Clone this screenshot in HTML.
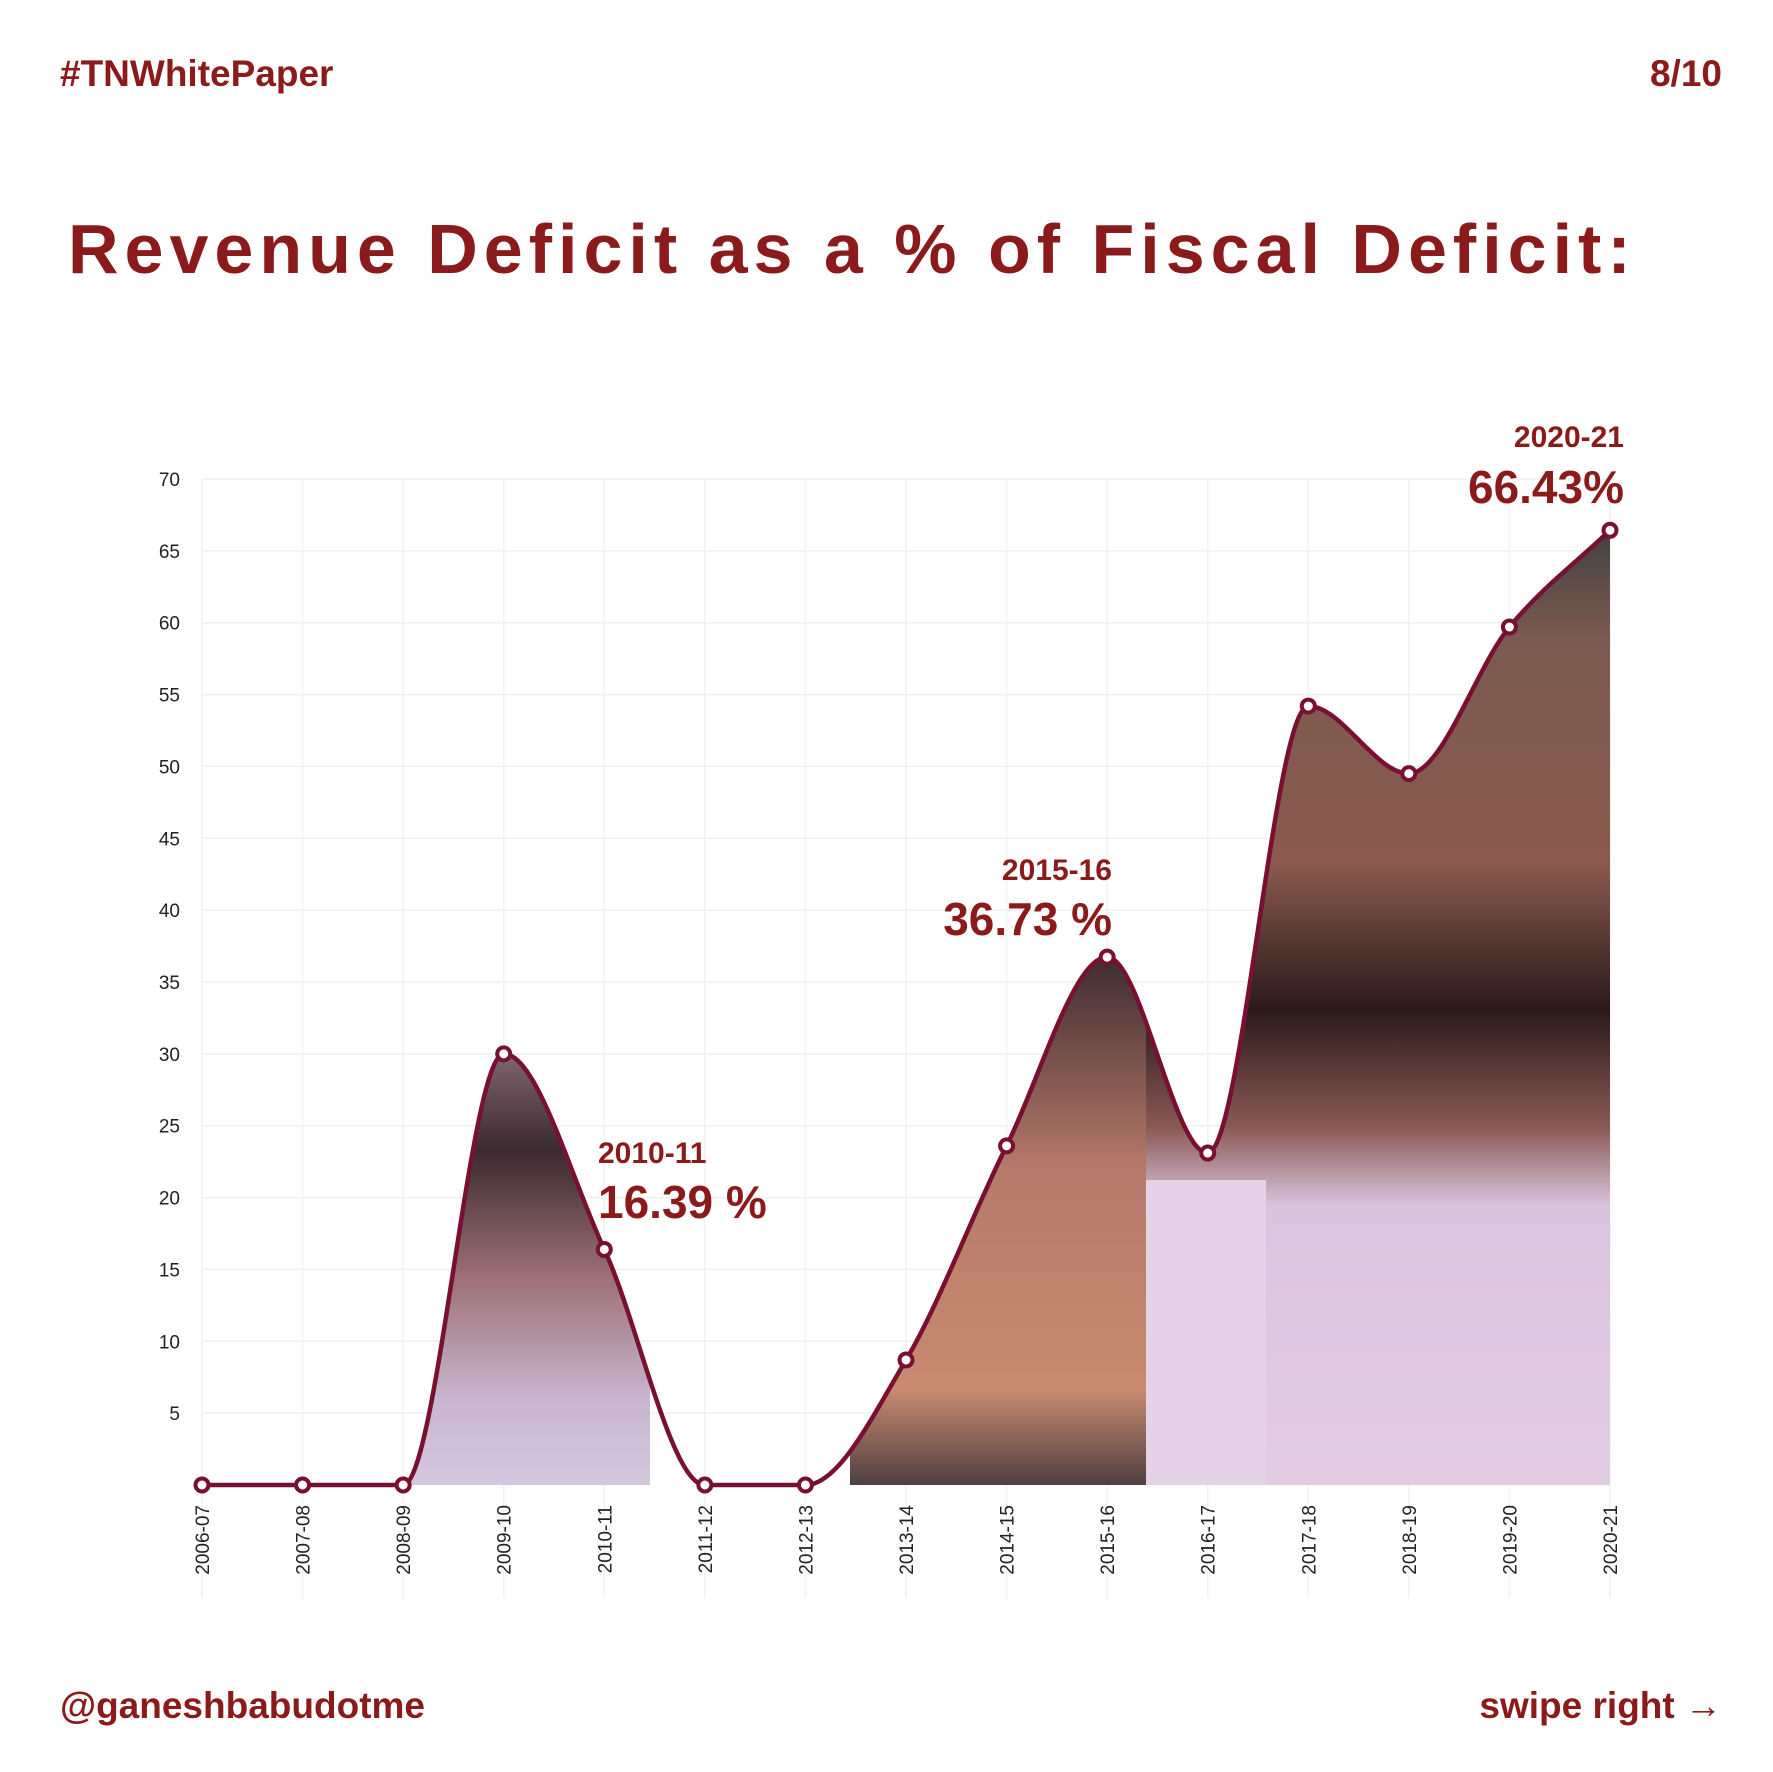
<!DOCTYPE html>
<html><head><meta charset="utf-8">
<style>
body{margin:0;background:#fff;}
svg{display:block;}
.t{font-family:"Liberation Sans Narrow","Liberation Sans",sans-serif;fill:#8b1a1a;font-weight:bold;}
.ax{font-family:"Liberation Sans Narrow","Liberation Sans",sans-serif;fill:#222;font-size:19px;}
</style></head>
<body>
<svg id="chart" width="1773" height="1772" viewBox="0 0 1773 1772" xmlns="http://www.w3.org/2000/svg">
<defs>
<linearGradient id="g1" x1="0" y1="0" x2="0" y2="1"><stop offset="0" stop-color="#a88690"/><stop offset="0.3" stop-color="#3a2a30"/><stop offset="0.55" stop-color="#9b6f74"/><stop offset="0.8" stop-color="#c9b6d0"/><stop offset="1" stop-color="#d8cbe0"/></linearGradient>
<linearGradient id="g2" x1="0" y1="0" x2="0" y2="1"><stop offset="0" stop-color="#3a2a2e"/><stop offset="0.4" stop-color="#b77a6a"/><stop offset="0.8" stop-color="#c88a70"/><stop offset="1" stop-color="#3b3338"/></linearGradient>
<linearGradient id="g3" x1="0" y1="0" x2="0" y2="1"><stop offset="0" stop-color="#3e3e3e"/><stop offset="0.12" stop-color="#7a5a50"/><stop offset="0.35" stop-color="#8a5a4e"/><stop offset="0.5" stop-color="#2a1a1a"/><stop offset="0.62" stop-color="#8a5a55"/><stop offset="0.7" stop-color="#d8c4dc"/><stop offset="1" stop-color="#e2cde4"/></linearGradient>
<clipPath id="areaClip"><path id="clipPath"/></clipPath>
</defs>
<text class="t" x="60" y="86" font-size="37">#TNWhitePaper</text>
<text class="t" x="1722" y="86" font-size="37" text-anchor="end">8/10</text>
<text class="t" x="68" y="273" font-size="70" letter-spacing="6">Revenue Deficit as a % of Fiscal Deficit:</text>
<g id="grid"></g>
<g clip-path="url(#areaClip)">
<rect x="410" y="1000" width="240" height="500" fill="url(#g1)"/>
<rect x="850" y="950" width="296" height="550" fill="url(#g2)"/>
<rect x="1146" y="520" width="472" height="980" fill="url(#g3)"/>
<rect x="1146" y="1180" width="120" height="320" fill="#e4d2e6"/>
</g>
<g id="marks"></g>
<text class="t" x="598" y="1163" font-size="30">2010-11</text>
<text class="t" x="598" y="1218" font-size="46">16.39 %</text>
<text class="t" x="1112" y="880" font-size="30" text-anchor="end">2015-16</text>
<text class="t" x="1112" y="935" font-size="46" text-anchor="end">36.73 %</text>
<text class="t" x="1624" y="447" font-size="30" text-anchor="end">2020-21</text>
<text class="t" x="1624" y="503" font-size="46" text-anchor="end">66.43%</text>
<text class="t" x="60" y="1718" font-size="37">@ganeshbabudotme</text>
<text class="t" x="1722" y="1718" font-size="37" text-anchor="end">swipe right →</text>
</svg>
<script>
const categories=["2006-07","2007-08","2008-09","2009-10","2010-11","2011-12","2012-13","2013-14","2014-15","2015-16","2016-17","2017-18","2018-19","2019-20","2020-21"];
const values=[0,0,0,30,16.39,0,0,8.7,23.6,36.73,23.1,54.2,49.5,59.7,66.43];
const yTicks=[5,10,15,20,25,30,35,40,45,50,55,60,65,70];
const X0=202,X1=1610,Y0=1485,Y1=479,YMAX=70;
const NS="http://www.w3.org/2000/svg";
const x=i=>X0+(X1-X0)*i/(categories.length-1);
const y=v=>Y0-(Y0-Y1)*v/YMAX;
function mk(t,a,p){const e=document.createElementNS(NS,t);for(const k in a)e.setAttribute(k,a[k]);p.appendChild(e);return e;}
const grid=document.getElementById('grid'),marks=document.getElementById('marks');
yTicks.forEach(v=>{
 const l=mk('line',{x1:X0,x2:X1,y1:y(v),y2:y(v),stroke:'#eef0f0','stroke-width':1.5},grid);
 
 
 const t=mk('text',{x:180,y:y(v)+7,'text-anchor':'end',class:'ax'},grid);t.textContent=v;
 
 
});
categories.forEach((c,i)=>{
 const l=mk('line',{x1:x(i),x2:x(i),y1:Y1,y2:1598,stroke:'#f0f3f3','stroke-width':1.5},grid);
 
 
 const t=mk('text',{x:0,y:0,'text-anchor':'end',class:'ax',transform:`translate(${x(i)+7},1505) rotate(-90)`},grid);t.textContent=c;
 
 
});
const n=values.length,px=values.map((v,i)=>x(i)),py=values.map(v=>y(v));
const d=[],m=[];for(let i=0;i<n-1;i++)d.push((py[i+1]-py[i])/(px[i+1]-px[i]));
for(let i=0;i<n;i++){if(i==0)m.push(d[0]);else if(i==n-1)m.push(d[n-2]);else m.push(d[i-1]*d[i]<=0?0:(d[i-1]+d[i])/2);}
for(let i=0;i<n-1;i++){if(d[i]==0){m[i]=0;m[i+1]=0;continue;}const a=m[i]/d[i],b=m[i+1]/d[i],s=a*a+b*b;if(s>9){const t=3/Math.sqrt(s);m[i]=t*a*d[i];m[i+1]=t*b*d[i];}}
let p=`M${px[0]},${py[0]}`;
for(let i=0;i<n-1;i++){const h=(px[i+1]-px[i])/3;p+=` C${px[i]+h},${py[i]+m[i]*h} ${px[i+1]-h},${py[i+1]-m[i+1]*h} ${px[i+1]},${py[i+1]}`;}
document.getElementById('clipPath').setAttribute('d',p+` L${px[n-1]},${Y0} L${px[0]},${Y0} Z`);
const line=mk('path',{d:p,fill:'none',stroke:'#7a1030','stroke-width':4.5},marks);


values.forEach((v,i)=>{
 const c=mk('circle',{cx:x(i),cy:y(v),r:6.5,fill:'#fff',stroke:'#7a1030','stroke-width':4},marks);
 
 
});
</script>
</body></html>
